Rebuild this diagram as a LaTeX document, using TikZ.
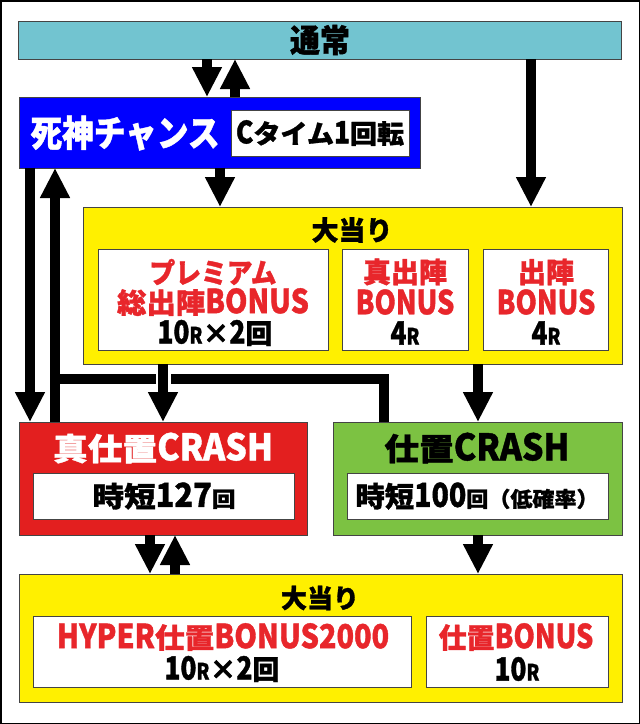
\documentclass[tikz,border=0pt]{standalone}
\usepackage{fontspec}
\setmainfont{Noto Sans CJK JP}[BoldFeatures={FakeBold=1.2}]
\usetikzlibrary{arrows.meta,calc}
\definecolor{cNormal}{HTML}{72C4D0}
\definecolor{cBlue}{HTML}{0000FF}
\definecolor{cYellow}{HTML}{FFF000}
\definecolor{cRedBox}{HTML}{E31F1F}
\definecolor{cGreen}{HTML}{7CC242}
\definecolor{cRedText}{HTML}{E8262B}
\definecolor{cEdge}{HTML}{444444}
\newcommand\fsz[1]{\fontsize{#1}{#1}\selectfont}
\newcommand\smR{{\fontsize{19}{19}\selectfont R}}
\newcommand\sx[2]{\scalebox{#1}[1]{#2}}
\newcommand\lat[1]{\scalebox{0.97}[1.18]{#1}}
\newcommand\tall[2]{\scalebox{1}[#1]{#2}}
\tikzset{
  box/.style={draw=cEdge, line width=1pt, anchor=north west, inner sep=0pt, outer sep=0pt},
  inbox/.style={box, fill=white},
  arr/.style={line width=10pt, -{Triangle[length=30pt,width=28pt]}},
  ln/.style={line width=10pt, line join=miter},
  lbl/.style={font=\bfseries, inner sep=0pt, align=center},
  redt/.style={lbl, text=cRedText},
}
\begin{document}
\begin{tikzpicture}[x=1pt, y=-1pt]
\useasboundingbox (0,0) rectangle (640,724);
\draw[line width=1.5pt] (0.75,0.75) rectangle (639.25,723.25);

% boxes
\node[box, fill=cNormal, minimum width=603pt, minimum height=38pt] (normal) at (18,21) {};
\node[box, fill=cBlue, minimum width=401pt, minimum height=71pt] (shini) at (19,97) {};
\node[inbox, minimum width=178pt, minimum height=46pt] (ctime) at (231,110) {};
\node[box, fill=cYellow, minimum width=539pt, minimum height=157pt] (hit1) at (83,207) {};
\node[inbox, minimum width=230pt, minimum height=101pt] (prem) at (98,249) {};
\node[inbox, minimum width=126pt, minimum height=101pt] (shin) at (342,249) {};
\node[inbox, minimum width=125pt, minimum height=101pt] (shut) at (483,249) {};
\node[box, fill=cRedBox, minimum width=288pt, minimum height=113pt] (crashR) at (19,422) {};
\node[inbox, minimum width=261pt, minimum height=46pt] (jitanR) at (33,473) {};
\node[box, fill=cGreen, minimum width=289pt, minimum height=113pt] (crashG) at (333,422) {};
\node[inbox, minimum width=261pt, minimum height=46pt] (jitanG) at (347,473) {};
\node[box, fill=cYellow, minimum width=603pt, minimum height=128pt] (hit2) at (19,574) {};
\node[inbox, minimum width=378pt, minimum height=71pt] (hyper) at (33,616) {};
\node[inbox, minimum width=182pt, minimum height=71pt] (shioki) at (426,616) {};

% texts
\node[lbl, font=\bfseries\fsz{30}] (tNormal) at (320,40) {\tall{1.06}{通常}};
\node[lbl, text=white, font=\bfseries\fsz{33}] (tShini) at (125,133) {\sx{0.96}{\tall{1.1}{死神チャンス}}};
\node[lbl, font=\bfseries\fsz{26}] (tCtime) at (320,133) {\sx{1.04}{\lat{C}タイム\lat{1}回転}};
\node[lbl, font=\bfseries\fsz{27}] (tHit1) at (352,230) {大当り};
\node[redt, font=\bfseries\fsz{28}] (tPrem1) at (213,272) {\sx{0.92}{プレミアム}};
\node[redt, font=\bfseries\fsz{28}] (tPrem2) at (213,302) {\sx{1.05}{総出陣\lat{BONUS}}};
\node[lbl, font=\bfseries\fsz{27}] (tPrem3) at (215,333) {\lat{10\smR}×\lat{2}回};
\node[redt, font=\bfseries\fsz{28}] (tShin1) at (405,272) {真出陣};
\node[redt, font=\bfseries\fsz{28}] (tShin2) at (405,302) {\lat{BONUS}};
\node[lbl, font=\bfseries\fsz{27}] (tShin3) at (405,333) {\lat{4\smR}};
\node[redt, font=\bfseries\fsz{28}] (tShut1) at (546,272) {出陣};
\node[redt, font=\bfseries\fsz{28}] (tShut2) at (546,302) {\lat{BONUS}};
\node[lbl, font=\bfseries\fsz{27}] (tShut3) at (546,333) {\lat{4\smR}};
\node[lbl, text=white, font=\bfseries\fsz{31}] (tCrashR) at (163,448) {\sx{1.12}{真仕置\lat{CRASH}}};
\node[lbl, font=\bfseries\fsz{28}] (tJitanR) at (164,496) {\sx{1.13}{時短\lat{127}{\fsz{21}回}}};
\node[lbl, font=\bfseries\fsz{31}] (tCrashG) at (477,448) {\sx{1.12}{仕置\lat{CRASH}}};
\node[lbl, font=\bfseries\fsz{28}] (tJitanG) at (477,496) {\sx{1.05}{時短\lat{100}{\fsz{21}回（低確率）}}};
\node[lbl, font=\bfseries\fsz{26}] (tHit2) at (320,598) {大当り};
\node[redt, font=\bfseries\fsz{28}] (tHyper1) at (223,637) {\sx{1.06}{\lat{HYPER}仕置\lat{BONUS2000}}};
\node[lbl, font=\bfseries\fsz{27}] (tHyper2) at (222,669) {\lat{10\smR}×\lat{2}回};
\node[redt, font=\bfseries\fsz{28}] (tShioki1) at (516,637) {仕置\lat{BONUS}};
\node[lbl, font=\bfseries\fsz{27}] (tShioki2) at (517,669) {\lat{10\smR}};

% guide coordinates
\coordinate (xa) at (207,0);
\coordinate (xb) at (235,0);
\coordinate (xc) at (220,0);
\coordinate (xd) at (531,0);
\coordinate (xe) at (30,0);
\coordinate (xf) at (55,0);
\coordinate (xg) at (163,0);
\coordinate (xh) at (478,0);
\coordinate (xi) at (384,0);
\coordinate (xj) at (150,0);
\coordinate (xk) at (175,0);
\coordinate (jn) at (55,379);

% connectors
\draw[arr] (normal.south -| xa) -- (shini.north -| xa);
\draw[arr] (shini.north -| xb) -- (normal.south -| xb);
\draw[arr] (shini.south -| xc) -- (hit1.north -| xc);
\draw[arr] (normal.south -| xd) -- (hit1.north -| xd);
\draw[arr] (shini.south -| xe) -- (crashR.north -| xe);
\draw[ln] (crashG.north -| xi) |- (jn);
\draw[arr] (crashR.north -| xf) -- (shini.south -| xf);
\draw[white, line width=15pt] ($(jn -| xg)+(0,-7)$) -- ($(jn -| xg)+(0,7)$);
\draw[arr] (hit1.south -| xg) -- (crashR.north -| xg);
\draw[arr] (hit1.south -| xh) -- (crashG.north -| xh);
\draw[arr] (crashR.south -| xj) -- (hit2.north -| xj);
\draw[arr] (hit2.north -| xk) -- (crashR.south -| xk);
\draw[arr] (crashG.south -| xh) -- (hit2.north -| xh);
\end{tikzpicture}
\end{document}
